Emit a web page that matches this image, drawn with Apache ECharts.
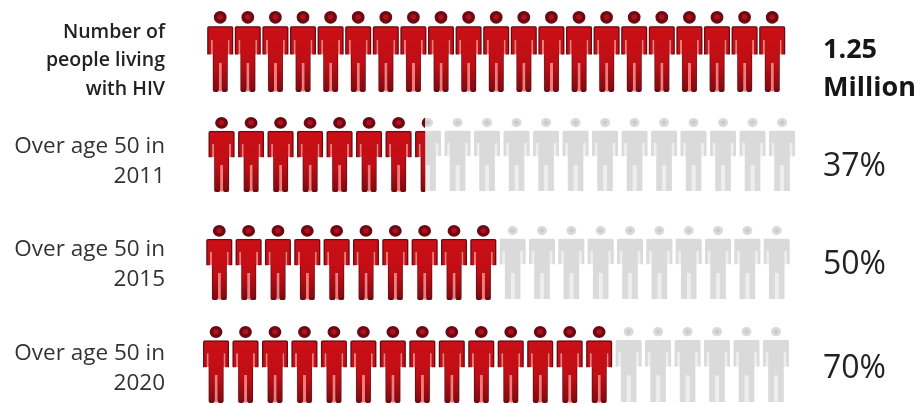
<!DOCTYPE html>
<html>
<head>
<meta charset="utf-8">
<style>html,body{margin:0;padding:0;background:#fff}#c{width:920px;height:404px}</style>
<script src="https://cdn.jsdelivr.net/npm/echarts@6/dist/echarts.min.js"></script>
</head>
<body>
<div id="c"></div>
<script>
var rowLabels = ['Number of\npeople living\nwith HIV', 'Over age 50 in\n2011', 'Over age 50 in\n2015', 'Over age 50 in\n2020'];
var rowValues = ['1.25\nMillion', '37%', '50%', '70%'];
var figureTotals = [21, 20, 20, 20];
var figuresFilled = [21, 7.4, 10, 14];

var A = 'M0 0L0 0M260 810L260 810';
var SLITS = 'M205 285H224V432H205ZM36 285H55V432H36ZM116 515H146V805H116Z';
var HEAD = function (r) { var c = 130, y = 60; return 'M' + (c - r) + ' ' + y + 'A' + r + ' ' + r + ' 0 1 1 ' + (c + r) + ' ' + y + 'A' + r + ' ' + r + ' 0 1 1 ' + (c - r) + ' ' + y + 'Z'; };
var BODY = 'M18 148H242Q260 148 260 166V432H224V285H205V790Q205 810 185 810H165Q146 810 146 790V515H116V790Q116 810 96 810H76Q57 810 57 790V285H36V432H0V166Q0 148 18 148Z';
var INNER = 'M20 166H240Q247 166 247 174V428H224V285H205V432H198V785H146V515H116V785H64V432H55V285H36V428H13V174Q13 166 20 166Z';
var GRAYBODY = 'M16 148H244Q260 148 260 164V425H232V280H208V800H150V520H112V800H52V280H28V425H0V164Q0 148 16 148Z';

function vGrad(stops) {
  return { type: 'linear', x: 0, y: 0, x2: 0, y2: 1, colorStops: stops };
}
var layers = [
  { path: A + 'M208 280H232V425H208ZM28 280H52V425H28ZM112 520H150V800H112Z', color: '#eeeeee', clip: false },
  { path: A + HEAD(50) + GRAYBODY, color: '#dadada', clip: false },
  { path: A + HEAD(22), color: '#cacaca', clip: false },
  { path: A + SLITS, color: '#f67a7a', clip: true },
  { path: A + HEAD(64) + BODY, color: '#6b0a12', clip: true },
  { path: A + HEAD(28) + INNER, color: vGrad([{ offset: 0, color: '#a5101e' }, { offset: .2, color: '#cb0f16' }, { offset: .65, color: '#bf0e14' }, { offset: 1, color: '#7e0a10' }]), clip: true }
];

var gridBoxes = [
  { left: 206.4, top: 11, width: 579.6, height: 81, w: 26 },
  { left: 206.8, top: 117, width: 590, height: 75, w: 26 },
  { left: 204.6, top: 225, width: 586.8, height: 75, w: 26 },
  { left: 201.3, top: 326, width: 589.4, height: 77, w: 26 }
];

var grids = [], xAxes = [], yAxes = [], series = [], titles = [];
gridBoxes.forEach(function (b, r) {
  grids.push({ left: b.left, top: b.top, width: b.width, height: b.height, containLabel: false });
  xAxes.push({ type: 'value', gridIndex: r, min: 0, max: figureTotals[r], show: false });
  yAxes.push({ type: 'category', gridIndex: r, data: [rowLabels[r]], show: false });
  layers.forEach(function (l) {
    series.push({
      type: 'pictorialBar', xAxisIndex: r, yAxisIndex: r, silent: true, animation: false,
      symbol: 'path://' + l.path,
      symbolSize: [b.w, b.height],
      symbolRepeat: figureTotals[r],
      symbolBoundingData: figureTotals[r],
      symbolMargin: '1!',
      symbolClip: l.clip,
      itemStyle: { color: l.color },
      data: [l.clip ? figuresFilled[r] : figureTotals[r]]
    });
  });
});

var labelTops = [18, 132, 235, 339];
var valueTops = [31, 149, 247, 351];
var valueStyles = [
  { fontSize: 27, fontWeight: 700, lineHeight: 38, color: '#161616' },
  { fontSize: 32, fontWeight: 400, lineHeight: 36, color: '#222222' }
];
rowLabels.forEach(function (t, r) {
  titles.push({
    text: t, left: 165, top: labelTops[r], textAlign: 'right', padding: 0,
    textStyle: r === 0
      ? { fontFamily: 'Open Sans', fontSize: 19.5, fontWeight: 600, lineHeight: 28.5, color: '#222222' }
      : { fontFamily: 'Open Sans', fontSize: 22.5, fontWeight: 400, lineHeight: 30, color: '#333333' }
  });
  var vs = valueStyles[r === 0 ? 0 : 1];
  titles.push({
    text: rowValues[r], left: 823, top: valueTops[r], padding: 0,
    textStyle: { fontFamily: 'Open Sans', fontSize: vs.fontSize, fontWeight: vs.fontWeight, lineHeight: vs.lineHeight, color: vs.color }
  });
});

var chart = echarts.init(document.getElementById('c'), null, { renderer: 'canvas' });
chart.setOption({ backgroundColor: '#ffffff', animation: false, title: titles, grid: grids, xAxis: xAxes, yAxis: yAxes, series: series });
</script>
</body>
</html>
